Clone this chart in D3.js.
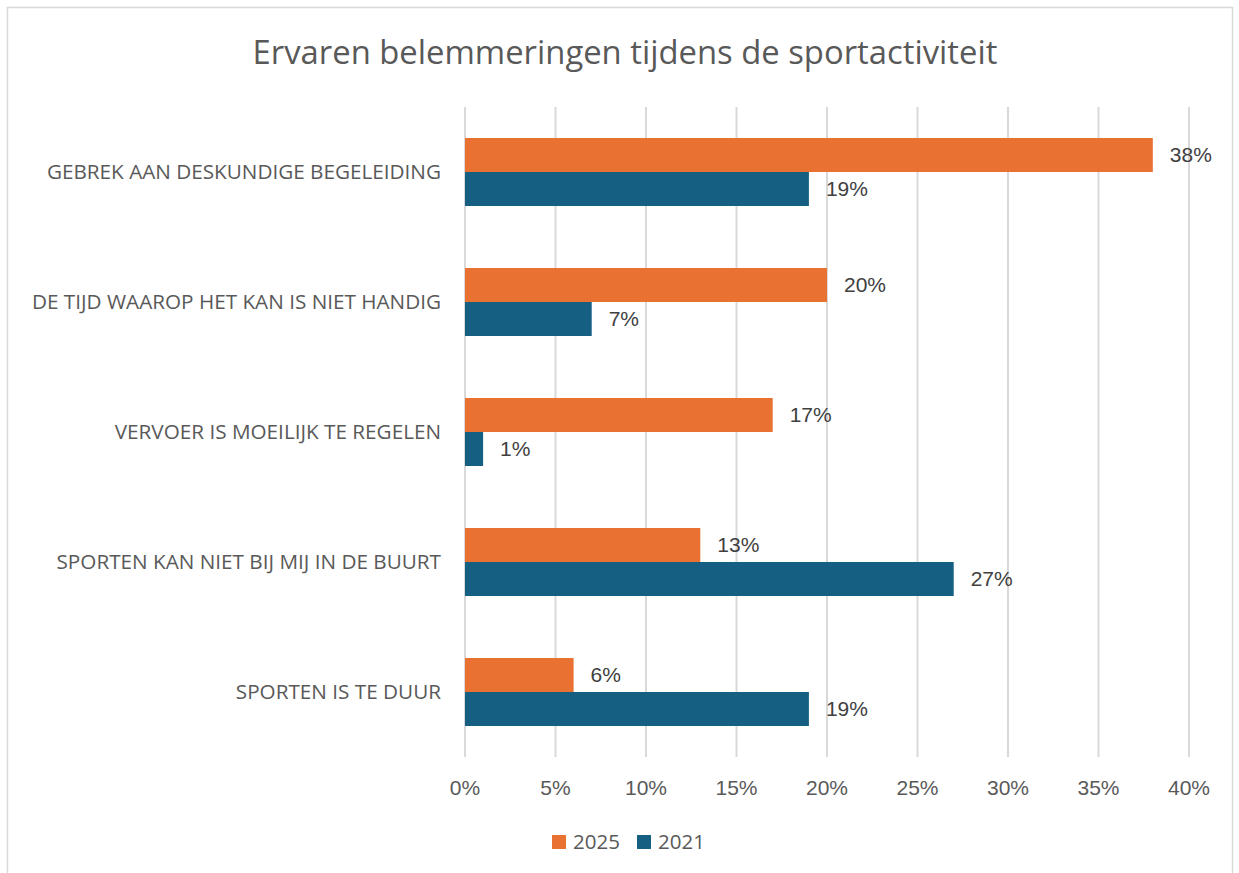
<!DOCTYPE html>
<html>
<head>
<meta charset="utf-8">
<script src="https://cdn.jsdelivr.net/npm/d3@7"></script>
<style>
  body { margin: 0; background: #fff; }
  svg { display: block; }
</style>
</head>
<body>
<div id="chart"></div>
<script>
// data
var categories = [
  "GEBREK AAN DESKUNDIGE BEGELEIDING",
  "DE TIJD WAAROP HET KAN IS NIET HANDIG",
  "VERVOER IS MOEILIJK TE REGELEN",
  "SPORTEN KAN NIET BIJ MIJ IN DE BUURT",
  "SPORTEN IS TE DUUR"
];
var seriesNames = ["2025", "2021"];
var values2025 = [38, 20, 17, 13, 6];
var values2021 = [19, 7, 1, 27, 19];
var ticks = [0, 5, 10, 15, 20, 25, 30, 35, 40];

var width = 1239, height = 873;
var margin = {top: 107, right: 50, bottom: 116, left: 465};
var color = d3.scaleOrdinal().domain(seriesNames).range(["#E97132", "#156082"]);

var svg = d3.select("#chart").append("svg")
  .attr("width", width)
  .attr("height", height);

// outer border
svg.append("rect")
  .attr("x", 7.5).attr("y", 7.5)
  .attr("width", 1225).attr("height", 880)
  .attr("fill", "none")
  .attr("stroke", "#d9d9d9")
  .attr("stroke-width", 1.5);

// title
svg.append("text")
  .attr("x", 625).attr("y", 64)
  .attr("text-anchor", "middle")
  .attr("font-family", "Open Sans")
  .attr("font-size", "32.8px")
  .attr("fill", "#595959")
  .text("Ervaren belemmeringen tijdens de sportactiviteit");

var x = d3.scaleLinear().domain([0, 40]).range([margin.left, 1189]);
var y = d3.scaleBand().domain(categories).range([margin.top, 757]);
var inner = d3.scaleBand().domain(seriesNames).range([0, 68]);

// gridlines
svg.append("g")
  .selectAll("line")
  .data(ticks)
  .join("line")
    .attr("x1", d => x(d)).attr("x2", d => x(d))
    .attr("y1", margin.top).attr("y2", 757)
    .attr("stroke", "#d9d9d9")
    .attr("stroke-width", 2);

// x tick labels
svg.append("g")
  .selectAll("text")
  .data(ticks)
  .join("text")
    .attr("x", d => x(d))
    .attr("y", 795)
    .attr("text-anchor", "middle")
    .attr("font-family", "Liberation Sans, Arial")
    .attr("font-size", "21px")
    .attr("fill", "#595959")
    .text(d => d + "%");

// category labels
svg.append("g")
  .selectAll("text")
  .data(categories)
  .join("text")
    .attr("x", 441)
    .attr("y", d => y(d) + y.bandwidth() / 2)
    .attr("dy", "0.35em")
    .attr("text-anchor", "end")
    .attr("font-family", "Open Sans")
    .attr("font-size", "20.7px")
    .attr("fill", "#595959")
    .text(d => d);

var rows = [];
categories.forEach(function(c, i) {
  rows.push({cat: c, series: "2025", value: values2025[i]});
  rows.push({cat: c, series: "2021", value: values2021[i]});
});

var barTop = d => y(d.cat) + (y.bandwidth() - 68) / 2 + inner(d.series);

// bars
svg.append("g")
  .selectAll("rect")
  .data(rows)
  .join("rect")
    .attr("x", x(0))
    .attr("y", barTop)
    .attr("width", d => x(d.value) - x(0))
    .attr("height", inner.bandwidth())
    .attr("fill", d => color(d.series));

// value labels
svg.append("g")
  .selectAll("text")
  .data(rows)
  .join("text")
    .attr("x", d => x(d.value) + 17)
    .attr("y", d => barTop(d) + inner.bandwidth() / 2)
    .attr("dy", "0.35em")
    .attr("font-family", "Liberation Sans, Arial")
    .attr("font-size", "21px")
    .attr("fill", "#404040")
    .text(d => d.value + "%");

// legend
var legend = svg.append("g")
  .selectAll("g")
  .data(seriesNames)
  .join("g")
    .attr("transform", (d, i) => "translate(" + (552 + i * 85) + ",835)");

legend.append("rect")
  .attr("width", 14).attr("height", 14)
  .attr("fill", d => color(d));

legend.append("text")
  .attr("x", 21).attr("y", 7)
  .attr("dy", "0.35em")
  .attr("font-family", "Open Sans")
  .attr("font-size", "20.5px")
  .attr("fill", "#595959")
  .text(d => d);
</script>
</body>
</html>
